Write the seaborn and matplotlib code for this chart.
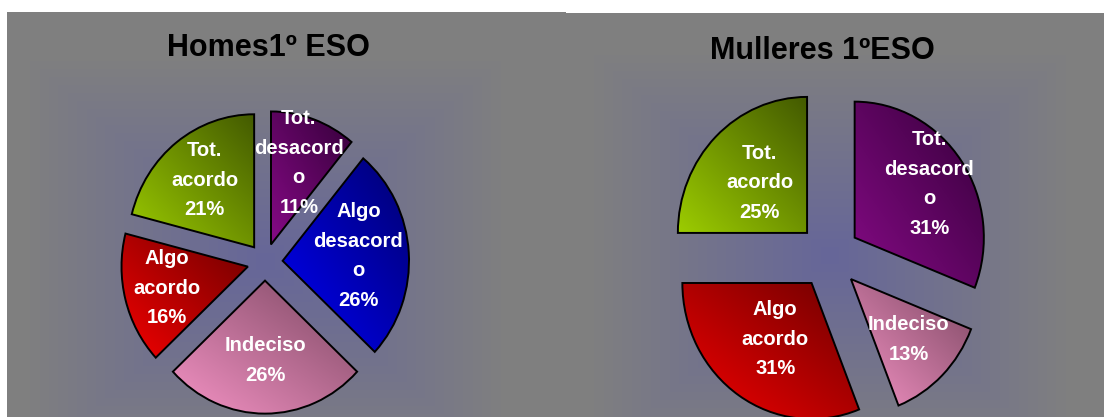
import numpy as np
import matplotlib.pyplot as plt
import seaborn as sns

# Datos das dúas enquisas (porcentaxes)
categorias = ['Tot. desacordo', 'Algo desacordo', 'Indeciso', 'Algo acordo', 'Tot. acordo']
etiquetas = ['Tot.\ndesacord\no', 'Algo\ndesacord\no', 'Indeciso', 'Algo\nacordo', 'Tot.\nacordo']
homes = [11, 26, 26, 16, 21]
mulleres = [31, 0, 13, 31, 25]
titulos = ['Homes1º ESO', 'Mulleres 1ºESO']

# cor clara (abaixo-esquerda) e escura (arriba-dereita) de cada sector
cores = {
    'Tot. desacordo': ('#850a85', '#35003a'),
    'Algo desacordo': ('#0000f5', '#000070'),
    'Indeciso': ('#f492c4', '#7c4862'),
    'Algo acordo': ('#f20000', '#6e0000'),
    'Tot. acordo': ('#9ccc00', '#435a00'),
}

sns.set_style('white')
plt.rcParams['font.family'] = ['Liberation Sans', 'DejaVu Sans']

W, H = 1104, 417
fig = plt.figure(figsize=(W / 100, H / 100), dpi=100)
SX = 0.95  # a torta de Excel sae un pouco estreita


def fondo(ax, w, h, cx, cy):
    xs, ys = np.meshgrid(np.arange(w), np.arange(h))
    d = np.maximum(np.abs(xs - cx) / 240, np.abs(ys - cy) / 205)
    t = np.clip(d, 0, 1)[..., None]
    c0 = np.array([0.40, 0.40, 0.60])
    c1 = np.array([0.50, 0.50, 0.50])
    img = c0 * (1 - t) + c1 * t
    ax.imshow(img, extent=(0, w / SX, 0, h), origin='lower', aspect='auto', zorder=0)


def degradado(ax, wedge, clara, escura):
    cmap = sns.blend_palette([clara, escura], n_colors=256, as_cmap=True)
    (x0, y0), (x1, y1) = wedge.get_path().get_extents().get_points()
    gx, gy = np.meshgrid(np.linspace(0, 1, 80), np.linspace(0, 1, 80))
    im = ax.imshow((gx + gy) / 2, cmap=cmap, vmin=0, vmax=1, extent=(x0, x1, y0, y1),
                   origin='lower', aspect='auto', zorder=1, interpolation='bilinear')
    im.set_clip_path(wedge)
    wedge.set_facecolor('none')
    wedge.set_zorder(2)


def torta(rect, pw, ph, valores, titulo, centro, raio, expl, dist, tpos):
    ax = fig.add_axes(rect)
    cx, cy = centro
    fondo(ax, pw, ph, cx, cy)
    cats = [c for c, v in zip(categorias, valores) if v > 0]
    labs = [e for e, v in zip(etiquetas, valores) if v > 0]
    vals = [v for v in valores if v > 0]
    wedges, _ = ax.pie(vals, explode=[expl * raio] * len(vals), startangle=90, counterclock=False,
                       center=(cx / SX, cy), radius=raio, frame=True,
                       wedgeprops=dict(edgecolor='black', linewidth=1.4))
    for w, c, lab, v in zip(wedges, cats, labs, vals):
        degradado(ax, w, *cores[c])
        th = np.deg2rad((w.theta1 + w.theta2) / 2)
        d = dist[c] * raio
        ax.text(w.center[0] + d * np.cos(th), w.center[1] + d * np.sin(th), f'{lab}\n{v}%',
                ha='center', va='center', color='white', fontsize=14.5, fontweight='bold',
                linespacing=1.7, zorder=3)
    ax.text(tpos[0], tpos[1], titulo, transform=ax.transAxes, ha='center', va='center',
            fontsize=22, fontweight='bold', color='black', zorder=3)
    ax.set_xlim(0, pw / SX)
    ax.set_ylim(0, ph)
    ax.set_aspect('auto')
    ax.axis('off')
    return ax


torta([7 / W, 0, 559 / W, 405 / H], 559, 405, homes, titulos[0],
      (258, 155), 133, 0.14,
      {'Tot. desacordo': 0.65, 'Algo desacordo': 0.6, 'Indeciso': 0.6,
       'Algo acordo': 0.66, 'Tot. acordo': 0.64},
      (0.467, 0.91))
torta([566 / W, 0, 538 / W, 404 / H], 538, 404, mulleres, titulos[1],
      (263, 161), 136, 0.24,
      {'Tot. desacordo': 0.7, 'Indeciso': 0.63, 'Algo acordo': 0.5, 'Tot. acordo': 0.52},
      (0.476, 0.905))

fig.savefig('out.png', dpi=100, facecolor='white')
